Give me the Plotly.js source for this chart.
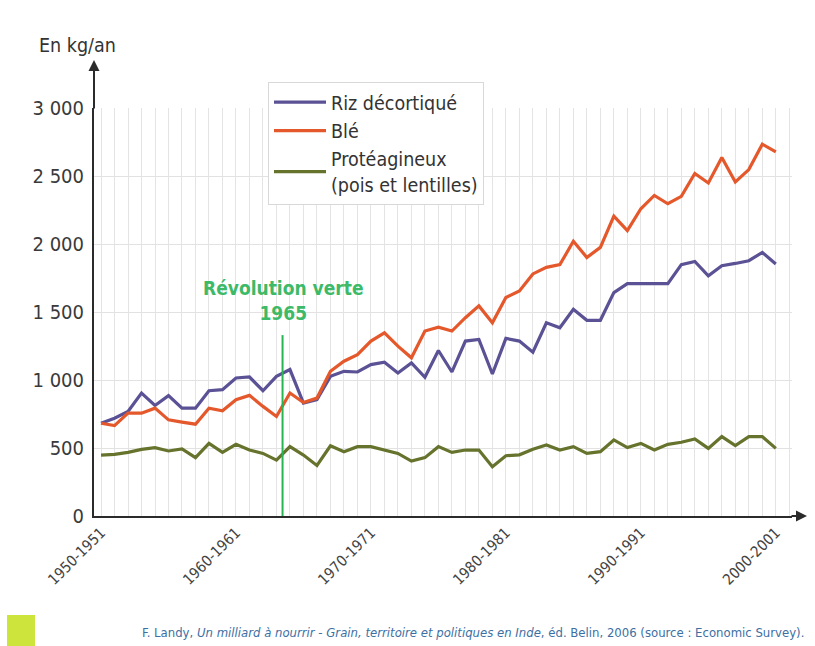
<!DOCTYPE html>
<html>
<head>
<meta charset="utf-8">
<script src="https://cdn.plot.ly/plotly-3.0.1.min.js"></script>
<style>
  html, body { margin: 0; padding: 0; background: #ffffff; }
  #chart { width: 815px; height: 646px; }
</style>
</head>
<body>
<div id="chart"></div>
<script>
// ---- Data ----
const years = [1950,1951,1952,1953,1954,1955,1956,1957,1958,1959,
               1960,1961,1962,1963,1964,1965,1966,1967,1968,1969,
               1970,1971,1972,1973,1974,1975,1976,1977,1978,1979,
               1980,1981,1982,1983,1984,1985,1986,1987,1988,1989,
               1990,1991,1992,1993,1994,1995,1996,1997,1998,1999,2000];

const riz = [682,719,769,904,813,885,793,793,921,929,
             1015,1022,921,1027,1077,830,855,1027,1064,1059,
             1113,1131,1052,1126,1020,1217,1059,1286,1298,1044,
             1306,1286,1205,1421,1384,1520,1439,1439,1643,1709,
             1709,1709,1709,1848,1872,1766,1840,1857,1877,1938,1853];

const ble = [682,665,756,756,793,707,690,675,793,774,
             855,887,806,732,904,835,867,1064,1138,1187,
             1286,1347,1249,1163,1360,1389,1360,1458,1545,1421,
             1606,1655,1780,1828,1848,2020,1901,1975,2205,2099,
             2259,2357,2296,2350,2518,2449,2636,2456,2547,2734,2677];

const proteagineux = [448,453,468,490,503,478,493,429,534,468,
                      527,485,460,411,510,448,372,516,473,510,
                      510,485,460,404,429,510,468,485,485,362,
                      443,450,491,522,485,510,460,473,559,503,
                      534,485,527,542,567,497,584,517,584,584,497];

const seriesNames = ["Riz décortiqué", "Blé", "Protéagineux<br>(pois et lentilles)"];
const seriesColors = ["#5a5295", "#e4582b", "#66732c"];

const xTickVals = [1950,1960,1970,1980,1990,2000];
const xTickText = ["1950-1951","1960-1961","1970-1971","1980-1981","1990-1991","2000-2001"];
const yTickVals = [0,500,1000,1500,2000,2500,3000];
const yTickText = ["0","500","1 000","1 500","2 000","2 500","3 000"];

const revolutionYear = 1963.45;   // position of the vertical marker
const revolutionTop = 1330;

const FONT = "'DejaVu Sans Condensed', 'Liberation Sans Narrow', 'Roboto', sans-serif";

// plot-area geometry in pixels (for paper-coordinate helpers)
const PL = 94, PR = 792, PT = 108, PB = 516;
const px = v => (v - PL) / (PR - PL);
const py = v => (PB - v) / (PB - PT);

const seriesData = [riz, ble, proteagineux];
const traces = seriesData.map((vals, i) => ({
  type: "scatter",
  mode: "lines",
  x: years,
  y: vals,
  name: seriesNames[i],
  line: { color: seriesColors[i], width: 3.2 },
  hoverinfo: "skip"
}));

const layout = {
  width: 815,
  height: 646,
  margin: { l: PL, r: 815 - PR, t: PT, b: 646 - PB },
  paper_bgcolor: "#ffffff",
  plot_bgcolor: "#ffffff",
  font: { family: FONT, color: "#3a3a3a" },
  showlegend: true,
  legend: {
    x: px(268), y: py(82), xanchor: "left", yanchor: "top",
    bgcolor: "#ffffff",
    bordercolor: "#d8d8d8",
    borderwidth: 1,
    font: { family: FONT, size: 19.5, color: "#333333" },
    itemwidth: 52,
    tracegroupgap: 3
  },
  xaxis: {
    range: [1949.48, 2001.2],
    tickmode: "array",
    tickvals: xTickVals,
    ticktext: xTickText,
    tickangle: -45,
    tickfont: { family: FONT, size: 15, color: "#444444" },
    ticks: "",
    showgrid: true,
    gridcolor: "#e4e4e4",
    gridwidth: 1,
    minor: { tickmode: "linear", tick0: 1950, dtick: 1, showgrid: true, gridcolor: "#e4e4e4", gridwidth: 1, ticks: "" },
    showline: true,
    linecolor: "#2b2b2b",
    linewidth: 2,
    zeroline: false,
    fixedrange: true
  },
  yaxis: {
    range: [0, 3000],
    tickmode: "array",
    tickvals: yTickVals,
    ticktext: yTickText,
    tickfont: { family: FONT, size: 20, color: "#3a3a3a" },
    ticks: "",
    ticklabelstandoff: 4,
    showgrid: true,
    gridcolor: "#e2e2e2",
    gridwidth: 1,
    showline: true,
    linecolor: "#2b2b2b",
    linewidth: 2,
    zeroline: false,
    fixedrange: true
  },
  shapes: [
    { type: "line", xref: "x", yref: "y", x0: revolutionYear, x1: revolutionYear, y0: 0, y1: revolutionTop,
      line: { color: "#27b552", width: 2 } },
    { type: "rect", xref: "paper", yref: "paper",
      x0: px(7), x1: px(35), y0: py(646), y1: py(615),
      fillcolor: "#cde43c", line: { width: 0 } }
  ],
  annotations: [
    { xref: "x", yref: "y", x: revolutionYear + 0.1, y: 1400, yanchor: "bottom", xanchor: "center",
      text: "<b>Révolution verte<br>1965</b>", showarrow: false,
      font: { family: FONT, size: 19, color: "#3dba68" } },
    { xref: "paper", yref: "paper", x: px(37), y: py(45), xanchor: "left", yanchor: "middle",
      text: "En kg/an", showarrow: false,
      font: { family: FONT, size: 19.5, color: "#333333" } },
    // axis extensions with arrowheads
    { xref: "paper", yref: "paper", x: px(807), y: 0, ax: -17, ay: 0, text: "", showarrow: true,
      arrowhead: 2, arrowsize: 1.1, arrowwidth: 2, arrowcolor: "#2b2b2b", standoff: 0 },
    { xref: "paper", yref: "paper", x: 0, y: py(60), ax: 0, ay: 50, text: "", showarrow: true,
      arrowhead: 2, arrowsize: 1.1, arrowwidth: 2, arrowcolor: "#2b2b2b", standoff: 0 },
    { xref: "paper", yref: "paper", x: px(806), y: py(632), xanchor: "right", yanchor: "middle",
      text: "F. Landy, <i>Un milliard à nourrir - Grain, territoire et politiques en Inde</i>, éd. Belin, 2006 (source : Economic Survey).",
      showarrow: false,
      font: { family: FONT, size: 13, color: "#3d6fa3" } }
  ]
};

Plotly.newPlot("chart", traces, layout, { displayModeBar: false, staticPlot: true });
</script>
</body>
</html>
